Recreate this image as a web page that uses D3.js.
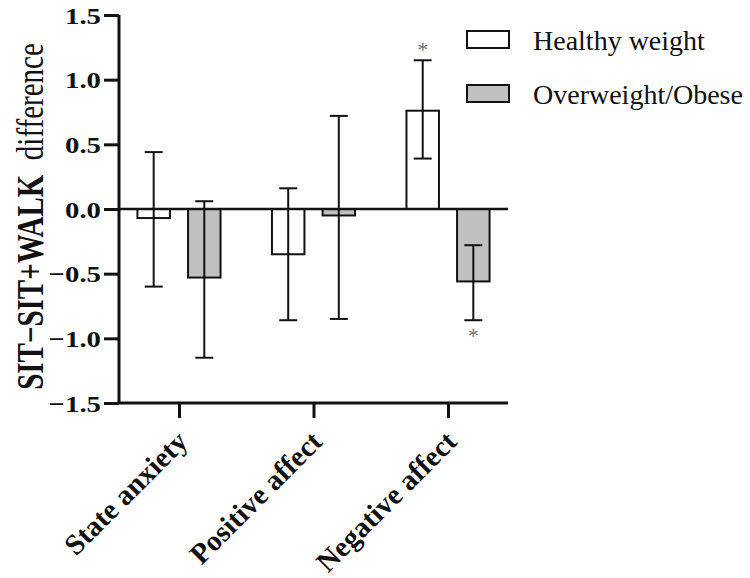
<!DOCTYPE html>
<html>
<head>
<meta charset="utf-8">
<script src="https://cdn.jsdelivr.net/npm/d3@7"></script>
<style>
  html, body { margin: 0; padding: 0; background: #fff; }
  svg { display: block; }
  svg text { font-family: "Liberation Serif", "Times New Roman", serif; }
</style>
</head>
<body>
<svg id="chart" width="750" height="578"></svg>
<script>
// ---- data ----
const categories = ["State anxiety", "Positive affect", "Negative affect"];
const seriesNames = ["Healthy weight", "Overweight/Obese"];
const healthyMean = [-0.07, -0.35, 0.76];
const healthyLow  = [-0.60, -0.86, 0.39];
const healthyHigh = [0.44, 0.16, 1.15];
const overMean    = [-0.53, -0.05, -0.56];
const overLow     = [-1.15, -0.85, -0.86];
const overHigh    = [0.06, 0.72, -0.28];
const healthySig  = [false, false, true];
const overSig     = [false, false, true];
const yTicks = [-1.5, -1.0, -0.5, 0.0, 0.5, 1.0, 1.5];
const yLabelMain = "SIT\u2212SIT+WALK";
const yLabelTail = "difference";

const seriesColors = ["#ffffff", "#c0c0c0"];
const FONT = "'Liberation Serif', 'Times New Roman', serif";

const rows = [];
categories.forEach((c, i) => {
  rows.push({cat: c, s: seriesNames[0], mean: healthyMean[i], lo: healthyLow[i], hi: healthyHigh[i], sig: healthySig[i]});
  rows.push({cat: c, s: seriesNames[1], mean: overMean[i], lo: overLow[i], hi: overHigh[i], sig: overSig[i]});
});

const svg = d3.select("#chart");
const pLeft = 119, pRight = 508, pTop = 15, pBottom = 403;

const y = d3.scaleLinear().domain([-1.5, 1.5]).range([pBottom, pTop]);
const x0 = d3.scalePoint().domain(categories).range([pLeft, pRight]).padding(0.446);
const x1 = d3.scaleBand().domain(seriesNames).range([-41.55, 41.55]).paddingInner(0.358);
const color = d3.scaleOrdinal().domain(seriesNames).range(seriesColors);

// bars
svg.append("g").selectAll("rect").data(rows).join("rect")
  .attr("x", d => x0(d.cat) + x1(d.s))
  .attr("y", d => y(Math.max(0, d.mean)))
  .attr("width", x1.bandwidth())
  .attr("height", d => Math.abs(y(d.mean) - y(0)))
  .attr("fill", d => color(d.s))
  .attr("stroke", "#111")
  .attr("stroke-width", 2);

// error bars
const eb = svg.append("g").attr("stroke", "#111").attr("stroke-width", 2);
const cx = d => x0(d.cat) + x1(d.s) + x1.bandwidth() / 2;
eb.selectAll("line.v").data(rows).join("line").attr("class", "v")
  .attr("x1", cx).attr("x2", cx)
  .attr("y1", d => y(d.lo)).attr("y2", d => y(d.hi));
eb.selectAll("line.t").data(rows).join("line").attr("class", "t")
  .attr("x1", d => cx(d) - 9).attr("x2", d => cx(d) + 9)
  .attr("y1", d => y(d.hi)).attr("y2", d => y(d.hi));
eb.selectAll("line.b").data(rows).join("line").attr("class", "b")
  .attr("x1", d => cx(d) - 9).attr("x2", d => cx(d) + 9)
  .attr("y1", d => y(d.lo)).attr("y2", d => y(d.lo));

// zero line
svg.append("line")
  .attr("x1", pLeft).attr("x2", pRight)
  .attr("y1", y(0)).attr("y2", y(0))
  .attr("stroke", "#111").attr("stroke-width", 2.5);

// asterisks
svg.append("g").selectAll("text").data(rows.filter(d => d.sig)).join("text")
  .attr("x", cx)
  .attr("y", d => d.mean >= 0 ? y(d.hi) - 3 : y(d.lo) + 23)
  .attr("text-anchor", "middle")
  .style("font-family", FONT)
  .attr("font-size", 22)
  .attr("fill", "#707070")
  .text("*");

// y axis
const yAxis = svg.append("g")
  .attr("transform", `translate(${pLeft},0)`)
  .call(d3.axisLeft(y).tickValues(yTicks).tickSize(15).tickPadding(3)
    .tickFormat(d => d3.format(".1f")(d).replace("-", "\u2212")));
yAxis.attr("font-family", null);
yAxis.select(".domain").attr("stroke", "#111").attr("stroke-width", 3)
  .attr("d", `M0,${pTop}V${pBottom}`);
yAxis.selectAll(".tick line").attr("stroke", "#111").attr("stroke-width", 3);
yAxis.selectAll(".tick text")
  .style("font-family", FONT)
  .attr("font-size", 24).attr("font-weight", "bold").attr("fill", "#111")
  .attr("x", -15).attr("dy", "0.34em")
  .attr("transform", "scale(1.2,1)");

// x axis
const xAxis = svg.append("g")
  .attr("transform", `translate(0,${pBottom})`)
  .call(d3.axisBottom(x0).tickSize(15).tickFormat(""));
xAxis.select(".domain").attr("stroke", "#111").attr("stroke-width", 3)
  .attr("d", `M${pLeft - 1.5},0H${pRight}`);
xAxis.selectAll(".tick line").attr("stroke", "#111").attr("stroke-width", 3);

svg.append("g").selectAll("text").data(categories).join("text")
  .attr("transform", d => `translate(${x0(d) - 4},${pBottom + 26}) rotate(-45)`)
  .attr("text-anchor", "end")
  .attr("dy", "0.7em")
  .style("font-family", FONT)
  .attr("font-size", 29).attr("font-weight", "bold").attr("fill", "#111")
  .text(d => d);

// y label
const yl = svg.append("text")
  .attr("transform", `translate(43,216.5) scale(1.3,1) rotate(-90)`)
  .attr("text-anchor", "middle")
  .style("font-family", FONT)
  .attr("font-size", 29).attr("fill", "#111");
yl.append("tspan").attr("font-weight", "bold").text(yLabelMain);
yl.append("tspan").attr("font-weight", "normal").text("\u00a0\u00a0" + yLabelTail);

// legend
const leg = svg.append("g").selectAll("g").data(seriesNames).join("g")
  .attr("transform", (d, i) => `translate(467,${31 + i * 54})`);
leg.append("rect").attr("width", 42).attr("height", 17)
  .attr("fill", d => color(d)).attr("stroke", "#111").attr("stroke-width", 2);
leg.append("text").attr("x", 66).attr("y", 19)
  .style("font-family", FONT)
  .attr("font-size", 28).attr("fill", "#111").text(d => d);
</script>
</body>
</html>
